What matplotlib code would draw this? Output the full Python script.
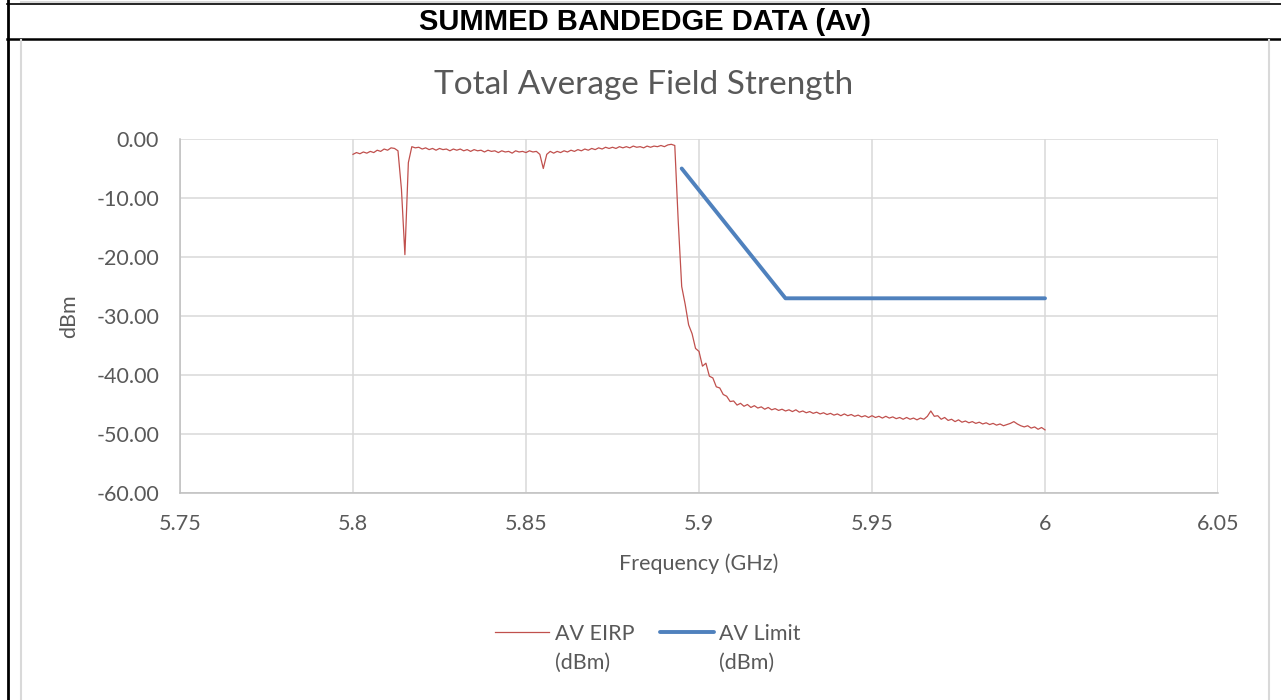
import numpy as np
import matplotlib
matplotlib.use("Agg")
import matplotlib.pyplot as plt
from matplotlib.lines import Line2D

# measured trace, 5.800 .. 6.000 GHz, 1 MHz step
eirp_dbm = [
    -2.6, -2.3, -2.5, -2.2, -2.4, -2.1, -2.3, -1.9, -2.1, -1.7,
    -1.9, -1.5, -1.6, -2.0, -8.5, -19.6, -4.0, -1.3, -1.5, -1.4,
    -1.7, -1.5, -1.8, -1.6, -1.9, -1.6, -1.8, -1.7, -2.0, -1.7,
    -1.9, -1.7, -2.0, -1.8, -2.1, -1.8, -2.0, -1.9, -2.2, -1.9,
    -2.1, -2.0, -2.3, -2.0, -2.2, -2.1, -2.4, -2.0, -2.2, -2.1,
    -2.3, -2.0, -2.2, -2.1, -2.6, -5.0, -2.6, -2.1, -2.4, -2.1,
    -2.3, -2.0, -2.2, -1.9, -2.1, -1.8, -2.0, -1.7, -1.9, -1.6,
    -1.8, -1.5, -1.7, -1.4, -1.6, -1.4, -1.6, -1.3, -1.5, -1.3,
    -1.5, -1.2, -1.4, -1.3, -1.5, -1.2, -1.4, -1.2, -1.3, -1.1,
    -1.3, -1.0, -0.9, -1.1, -14.0, -25.0, -28.0, -31.5, -33.0, -35.5,
    -36.0, -38.5, -38.0, -40.2, -40.5, -42.0, -42.2, -43.3, -43.6, -44.5,
    -44.4, -45.1, -44.8, -45.3, -45.0, -45.5, -45.2, -45.6, -45.4, -45.8,
    -45.5, -45.9, -45.7, -46.0, -45.8, -46.1, -45.9, -46.2, -45.9, -46.3,
    -46.1, -46.4, -46.2, -46.5, -46.3, -46.6, -46.4, -46.7, -46.5, -46.8,
    -46.6, -46.9, -46.6, -46.9, -46.7, -47.0, -46.8, -47.1, -46.9, -47.2,
    -46.9, -47.2, -47.0, -47.3, -47.0, -47.3, -47.1, -47.4, -47.2, -47.5,
    -47.2, -47.5, -47.3, -47.6, -47.3, -47.5, -47.0, -46.1, -47.0, -46.9,
    -47.5, -47.2, -47.7, -47.5, -47.9, -47.6, -48.0, -47.8, -48.1, -47.9,
    -48.2, -48.0, -48.3, -48.1, -48.4, -48.2, -48.5, -48.3, -48.6, -48.4,
    -48.2, -47.9, -48.3, -48.6, -48.8, -48.6, -49.0, -48.8, -49.2, -48.9,
    -49.3,
]
eirp_freq = np.linspace(5.800, 6.000, len(eirp_dbm))

limit_freq = [5.895, 5.925, 6.000]
limit_dbm = [-5.0, -27.0, -27.0]

x_ticks = [5.75, 5.8, 5.85, 5.9, 5.95, 6.0, 6.05]
x_tick_labels = ["5.75", "5.8", "5.85", "5.9", "5.95", "6", "6.05"]
y_ticks = [0, -10, -20, -30, -40, -50, -60]

W, H = 1281, 700
txt = "#595959"
font = "Lato"

fig = plt.figure(figsize=(W / 100, H / 100), dpi=100)

# table frame around the chart
fig.add_artist(Line2D([21 / W, 1269 / W], [1 - 1.5 / H, 1 - 1.5 / H], color="#d9d9d9", lw=1.5))
fig.add_artist(Line2D([7.5 / W, 7.5 / W], [0, 1], color="black", lw=2.0))
fig.add_artist(Line2D([7 / W, 1], [1 - 4 / H, 1 - 4 / H], color="black", lw=1.2))
fig.add_artist(Line2D([7 / W, 1], [1 - 38.7 / H, 1 - 38.7 / H], color="black", lw=1.8))
fig.add_artist(Line2D([21 / W, 21 / W], [0, 1 - 40 / H], color="#d9d9d9", lw=1.5))
fig.add_artist(Line2D([1269 / W, 1269 / W], [0, 1 - 40 / H], color="#d9d9d9", lw=1.5))
fig.text(645 / W, 1 - 22 / H, "SUMMED BANDEDGE DATA (Av)", ha="center", va="center",
         fontsize=21, fontweight="bold", family="Liberation Sans")

ax = fig.add_axes([180 / W, 1 - 493 / H, (1218 - 180) / W, (493 - 139) / H])
ax.plot(eirp_freq, eirp_dbm, color="#C0504D", lw=0.9, label="AV EIRP")
ax.plot(limit_freq, limit_dbm, color="#4F81BD", lw=2.8, label="AV Limit",
        solid_capstyle="round")

ax.set_xlim(5.75, 6.05)
ax.set_ylim(-60, 0)
ax.set_xticks(x_ticks)
ax.set_xticklabels(x_tick_labels)
ax.set_yticks(y_ticks)
ax.set_yticklabels([f"{v:.2f}" for v in y_ticks])
ax.grid(True, color="#d9d9d9", lw=1.1)
ax.set_axisbelow(True)
for s in ["top", "right"]:
    ax.spines[s].set_visible(False)
for s in ["left", "bottom"]:
    ax.spines[s].set_color("#bfbfbf")
    ax.spines[s].set_linewidth(1.1)
ax.tick_params(length=0, labelsize=15.5, labelcolor=txt, pad=15)
for lab in ax.get_xticklabels() + ax.get_yticklabels():
    lab.set_family(font)

fig.text(644 / W, 1 - 85 / H, "Total Average Field Strength", ha="center", va="center",
         fontsize=24, color=txt, family=font)
ax.set_xlabel("Frequency (GHz)", fontsize=15.5, color=txt, family=font, labelpad=14)
ax.set_ylabel("dBm", fontsize=15.5, color=txt, family=font, labelpad=12)

leg = fig.legend(loc="center", bbox_to_anchor=(648 / W, 1 - 634 / H), ncol=2, frameon=False,
                 prop={"family": font, "size": 15.5}, labelcolor=txt, handlelength=2.5,
                 handletextpad=0.25, columnspacing=1.2)

# second line of each legend label, placed under the first
fig.canvas.draw()
inv = fig.transFigure.inverted()
for t in leg.get_texts():
    bb = t.get_window_extent()
    x0, y0 = inv.transform((bb.x0, bb.y0))
    fig.text(x0, y0 - 9 / H, "(dBm)", ha="left", va="top", fontsize=15.5, color=txt, family=font)

fig.savefig("out.png", dpi=100)
